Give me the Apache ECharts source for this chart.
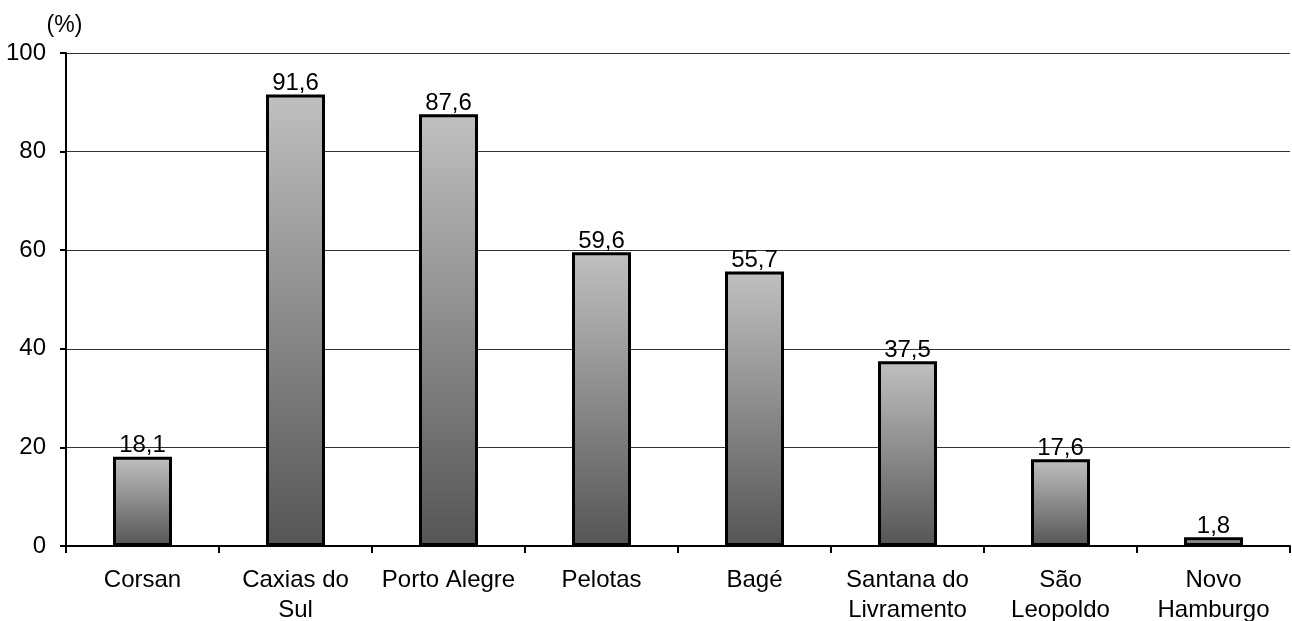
<!DOCTYPE html>
<html>
<head>
<meta charset="utf-8">
<script src="https://cdn.jsdelivr.net/npm/echarts@6/dist/echarts.min.js"></script>
<style>
  html, body { margin: 0; padding: 0; background: #fff; }
  #chart { width: 1292px; height: 621px; }
</style>
</head>
<body>
<div id="chart"></div>
<script>
// Operators / cities
const categories = ['Corsan', 'Caxias do\nSul', 'Porto Alegre', 'Pelotas', 'Bagé', 'Santana do\nLivramento', 'São\nLeopoldo', 'Novo\nHamburgo'];
// Share in percent
const values = [18.1, 91.6, 87.6, 59.6, 55.7, 37.5, 17.6, 1.8];
// Y axis ticks
const yTicks = [0, 20, 40, 60, 80, 100];

const FONT = '"Liberation Sans", Arial, sans-serif';

const chart = echarts.init(document.getElementById('chart'), null, { renderer: 'canvas' });

// Each bar fades from light grey at its top to dark grey at the baseline
const barFill = new echarts.graphic.LinearGradient(0, 0, 0, 1, [
  { offset: 0, color: '#c0c0c0' },
  { offset: 1, color: '#555555' }
]);

chart.setOption({
  animation: false,
  backgroundColor: '#ffffff',
  grid: { left: 66, right: 2, top: 53, bottom: 75, containLabel: false, outerBoundsMode: 'none' },
  xAxis: {
    type: 'category',
    data: categories,
    boundaryGap: true,
    axisLine: { lineStyle: { color: '#000', width: 2 } },
    axisTick: { show: true, alignWithLabel: false, length: 7, lineStyle: { color: '#000', width: 2 } },
    axisLabel: {
      interval: 0,
      margin: 19,
      color: '#000',
      fontFamily: FONT,
      fontSize: 24,
      lineHeight: 30
    }
  },
  yAxis: {
    type: 'value',
    min: yTicks[0],
    max: yTicks[yTicks.length - 1],
    interval: 20,
    name: '(%)',
    nameLocation: 'end',
    nameGap: 16,
    nameTextStyle: { color: '#000', fontFamily: FONT, fontSize: 23, align: 'center', padding: [0, 3, 0, 0] },
    axisLine: { show: true, lineStyle: { color: '#000', width: 2 } },
    axisTick: { show: true, length: 6, lineStyle: { color: '#000', width: 2 } },
    axisLabel: { margin: 20, color: '#000', fontFamily: FONT, fontSize: 24 },
    splitLine: { show: true, lineStyle: { color: '#333', width: 1 } }
  },
  series: [{
    type: 'bar',
    data: values,
    barWidth: 59,
    itemStyle: { color: barFill, borderColor: '#000', borderWidth: 3 },
    label: {
      show: true,
      position: 'top',
      distance: -1,
      color: '#000',
      fontFamily: FONT,
      fontSize: 24,
      formatter: p => p.value.toFixed(1).replace('.', ',')
    }
  }]
});
</script>
</body>
</html>
